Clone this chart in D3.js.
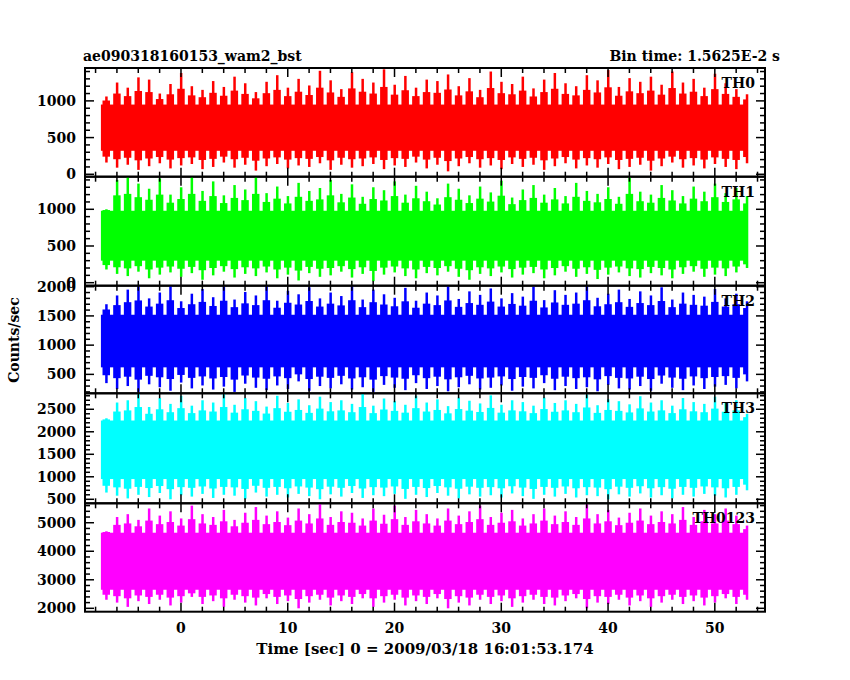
<!DOCTYPE html>
<html>
<head>
<meta charset="utf-8">
<script src="https://cdn.jsdelivr.net/npm/d3@7"></script>
<style>
  body { margin: 0; background: #fff; }
  text { font-family: "DejaVu Serif", serif; font-weight: bold; fill: #000; }
</style>
</head>
<body>
<div id="chart"></div>
<script>
// Bin start times (1 s envelope bins), series envelopes
var binStart = -7.5, binWidth = 1;
var th0Hi = [1060,1250,1180,1320,1290,1100,1230,1380,1200,1150,1270,1190,1330,1240,1120,1260,1350,1180,1300,1210,1410,1280,1160,1390,1300,1250,1430,1220,1340,1180,1290,1270,1360,1200,1310,1150,1400,1260,1230,1330,1170,1290,1380,1240,1200,1350,1280,1420,1190,1310,1260,1330,1220,1400,1250,1300,1180,1370,1240,1160,1090];
var th0Lo = [160,90,130,60,110,150,80,120,140,70,100,160,90,130,50,110,140,80,120,100,150,60,130,90,110,140,70,120,100,160,80,130,40,110,150,90,120,70,140,100,130,60,110,150,80,120,90,140,70,100,130,50,110,160,90,120,80,140,100,70,150];
var th1Hi = [1000,1400,1440,1350,1280,1420,1200,1300,1440,1250,1380,1190,1330,1270,1440,1220,1310,1180,1360,1250,1290,1400,1210,1340,1170,1300,1260,1380,1200,1320,1240,1150,1350,1280,1190,1310,1230,1390,1160,1270,1330,1200,1290,1180,1360,1250,1210,1300,1170,1440,1240,1200,1330,1260,1180,1310,1240,1350,1220,1290,1180];
var th1Lo = [180,120,90,150,60,110,140,80,130,40,100,150,70,120,90,140,60,110,30,130,80,100,150,70,120,20,110,140,90,60,130,100,150,80,40,120,90,140,70,110,130,60,100,150,80,120,50,110,140,90,70,130,100,60,120,150,80,110,90,140,200];
var th2Hi = [1700,1850,1950,2010,1800,1900,2017,1750,1880,1960,1820,2000,1780,1910,1850,2017,1760,1930,1870,1990,1800,1900,1840,2017,1780,1950,1870,1810,1980,1760,1900,1850,2010,1790,1920,1860,1970,1800,1890,1830,2000,1770,1940,1860,1900,2017,1810,1880,1950,1790,1920,1850,1990,1780,1900,1860,1830,1960,1800,1880,1750];
var th2Lo = [350,250,300,200,330,280,220,360,260,310,240,290,200,340,270,230,310,250,380,220,300,260,330,240,280,200,320,270,230,350,250,300,210,280,330,240,270,310,220,290,260,350,230,300,250,280,210,320,260,240,300,220,340,270,230,310,250,290,320,260,380];
var th3Hi = [2300,2650,2700,2850,2550,2750,2620,2800,2580,2700,2650,2850,2600,2750,2680,2560,2800,2640,2720,2590,2780,2660,2700,2620,2850,2580,2740,2680,2600,2800,2650,2720,2570,2760,2690,2630,2810,2600,2700,2660,2580,2760,2640,2700,2620,2830,2590,2720,2680,2610,2790,2650,2700,2580,2750,2660,2620,2780,2640,2700,2400];
var th3Lo = [650,580,520,600,550,640,500,590,560,620,530,600,580,510,650,560,600,540,620,570,500,610,560,640,530,590,570,620,510,600,550,640,580,520,610,560,590,540,630,570,510,600,560,620,540,590,570,500,610,560,630,540,590,520,600,560,620,580,540,600,700];
var thAllHi = [4700,5200,5300,5100,5500,5250,5400,5150,5600,5300,5200,5450,5100,5350,5550,5250,5400,5180,5500,5300,5650,5200,5400,5350,5150,5500,5280,5600,5200,5450,5300,5150,5500,5250,5400,5600,5200,5350,5450,5150,5300,5500,5250,5400,5200,5650,5300,5450,5180,5350,5500,5250,5400,5300,5550,5200,5450,5300,5500,5250,4900];
var thAllLo = [2300,2200,2050,2250,2150,2300,2100,2200,2400,2150,2250,2050,2300,2200,2100,2350,2150,2250,2000,2200,2300,2100,2250,2150,2350,2050,2200,2300,2100,2250,2150,2350,2000,2200,2100,2300,2150,2250,2050,2200,2300,2150,2100,2250,2350,2000,2200,2150,2300,2100,2250,2050,2200,2300,2150,2250,2100,2200,2350,2150,2300];
// solid core band of each light curve [low, high]
var coreLevels = [[320, 950], [300, 980], [620, 1520], [950, 2250], [2650, 4650]];

var panelNames = ["TH0", "TH1", "TH2", "TH3", "TH0123"];
var panelColors = ["#ff0000", "#00ff00", "#0000ff", "#00ffff", "#ff00ff"];
var panelDomains = [[-33, 1448], [-41, 1444], [176, 2017], [411, 2855], [1881, 5681]];
var panelMajor = [500, 500, 500, 500, 1000];
var panelMinor = [100, 100, 100, 100, 200];
var panelTicks = [[0, 500, 1000], [0, 500, 1000], [500, 1000, 1500, 2000], [500, 1000, 1500, 2000, 2500], [2000, 3000, 4000, 5000]];
var panelHi = [th0Hi, th1Hi, th2Hi, th3Hi, thAllHi];
var panelLo = [th0Lo, th1Lo, th2Lo, th3Lo, thAllLo];
var panelEdges = [68, 176.7, 285.7, 393.3, 503.3, 611.7];

var left = 85, right = 765;
var svg = d3.select("#chart").append("svg").attr("width", 850).attr("height", 680);

var x = d3.scaleLinear().domain([-8.99, 54.7]).range([left, right]);
var dataEnd = 53.1;

panelNames.forEach(function (name, p) {
    var top = panelEdges[p], bottom = panelEdges[p + 1];
    var y = d3.scaleLinear().domain(panelDomains[p]).range([bottom, top]);
    var g = svg.append("g");
    var core = coreLevels[p];

    g.append("clipPath").attr("id", "clip" + p)
        .append("rect").attr("x", left).attr("y", top).attr("width", right - left).attr("height", bottom - top);

    var bins = panelHi[p].map(function (h, i) {
        return { t0: binStart + i * binWidth, hi: h, lo: panelLo[p][i] };
    });
    var plot = g.append("g").attr("clip-path", "url(#clip" + p + ")").attr("fill", panelColors[p]);

    plot.append("rect")
        .attr("x", x(binStart)).attr("width", x(dataEnd) - x(binStart))
        .attr("y", y(core[1])).attr("height", y(core[0]) - y(core[1]));

    // mid-level texture: a wider bar halfway between core and envelope
    plot.selectAll("rect.mid").data(bins).enter().append("rect").attr("class", "mid")
        .attr("x", d => x(d.t0 + 0.15))
        .attr("width", d => Math.max(0, x(Math.min(d.t0 + 0.85, dataEnd)) - x(d.t0 + 0.15)))
        .attr("y", d => y((d.hi + core[1]) / 2))
        .attr("height", d => y((d.lo + core[0]) / 2) - y((d.hi + core[1]) / 2));

    // spikes to the envelope values
    plot.selectAll("rect.spike").data(bins).enter().append("rect").attr("class", "spike")
        .attr("x", d => x(d.t0 + 0.4))
        .attr("width", 2.5)
        .attr("y", d => y(d.hi))
        .attr("height", d => y(d.lo) - y(d.hi));

    // y ticks (inward, both sides)
    var minor = d3.range(Math.ceil(panelDomains[p][0] / panelMinor[p]) * panelMinor[p], panelDomains[p][1], panelMinor[p]);
    minor.forEach(function (v) {
        var major = v % panelMajor[p] === 0;
        var len = major ? 9 : 5;
        g.append("line").attr("x1", left).attr("x2", left + len).attr("y1", y(v)).attr("y2", y(v)).attr("stroke", "#000").attr("stroke-width", 1.5);
        g.append("line").attr("x1", right).attr("x2", right - len).attr("y1", y(v)).attr("y2", y(v)).attr("stroke", "#000").attr("stroke-width", 1.5);
    });
    panelTicks[p].forEach(function (v) {
        g.append("text").attr("x", 76).attr("y", y(v) + 5).attr("text-anchor", "end").style("font-size", "14px").text(v);
    });

    // x ticks at top and bottom of each panel
    d3.range(-8, 55, 2).forEach(function (t) {
        var len = t % 10 === 0 ? 9 : 5;
        g.append("line").attr("x1", x(t)).attr("x2", x(t)).attr("y1", top).attr("y2", top + len).attr("stroke", "#000").attr("stroke-width", 1.5);
        g.append("line").attr("x1", x(t)).attr("x2", x(t)).attr("y1", bottom).attr("y2", bottom - len).attr("stroke", "#000").attr("stroke-width", 1.5);
    });

    g.append("text").attr("x", 755).attr("y", top + 20).attr("text-anchor", "end").style("font-size", "14px").text(name);

    g.append("rect").attr("x", left).attr("y", top).attr("width", right - left).attr("height", bottom - top)
        .attr("fill", "none").attr("stroke", "#000").attr("stroke-width", 2);
});

// x axis labels
[0, 10, 20, 30, 40, 50].forEach(function (t) {
    svg.append("text").attr("x", x(t)).attr("y", 633).attr("text-anchor", "middle").style("font-size", "14px").text(t);
});

svg.append("text").attr("x", 425).attr("y", 654).attr("text-anchor", "middle").style("font-size", "15px")
    .text("Time [sec] 0 = 2009/03/18 16:01:53.174");
svg.append("text").attr("x", 83).attr("y", 61).style("font-size", "14px").text("ae090318160153_wam2_bst");
svg.append("text").attr("x", 780).attr("y", 61).attr("text-anchor", "end").style("font-size", "14px").text("Bin time: 1.5625E-2 s");
svg.append("text").attr("transform", "translate(19,340) rotate(-90)").attr("text-anchor", "middle").style("font-size", "14px").text("Counts/sec");
</script>
</body>
</html>
